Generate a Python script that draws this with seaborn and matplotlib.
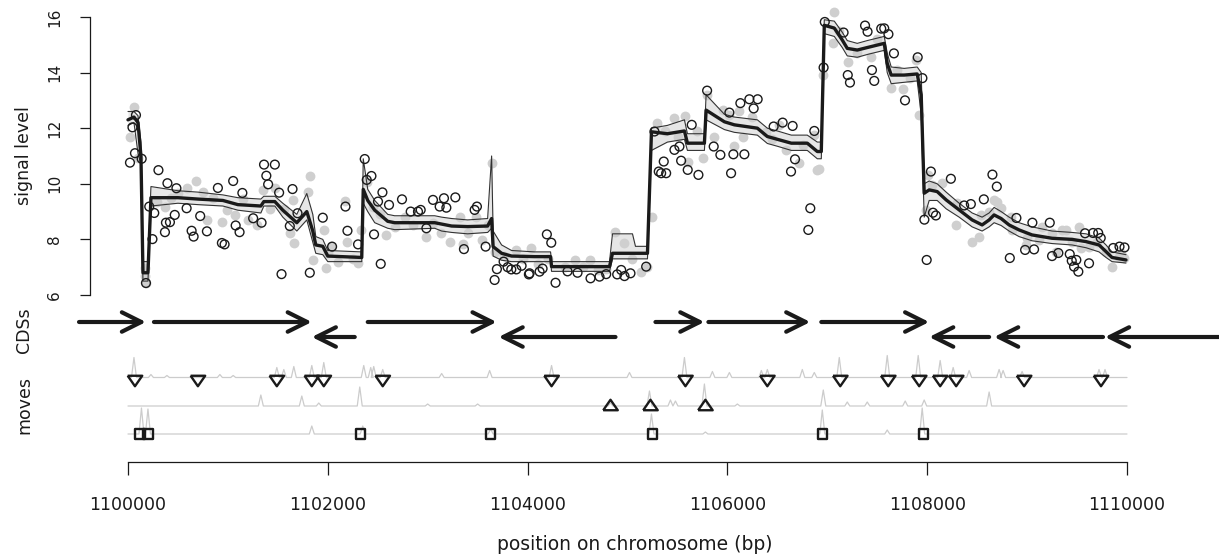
import matplotlib.pyplot as plt
import pandas as pd
import numpy as np
import seaborn as sns

sns.set_style('white')
plt.rcParams['font.family'] = ['DejaVu Sans']

# --- signal: posterior mean and the two outer quantile lines ---
mean_x = [1100000, 1100060, 1100100, 1100130, 1100150, 1100200, 1100230, 1100500, 1100700, 1100950,
          1101100, 1101330, 1101360, 1101470, 1101550, 1101690, 1101790, 1101850, 1101880, 1101950,
          1102000, 1102340, 1102355, 1102400, 1102470, 1102600, 1102670, 1103070, 1103140, 1103240,
          1103400, 1103600, 1103640, 1103655, 1103740, 1103840, 1104070, 1104230, 1104240, 1104820,
          1104850, 1105050, 1105080, 1105200, 1105240, 1105400, 1105570, 1105600, 1105770, 1105787,
          1105970, 1106070, 1106300, 1106400, 1106500, 1106640, 1106800, 1106900, 1106940, 1106970,
          1107070, 1107150, 1107200, 1107300, 1107400, 1107570, 1107600, 1107640, 1107770, 1107900,
          1107940, 1107970, 1108020, 1108100, 1108190, 1108320, 1108450, 1108550, 1108620, 1108670,
          1108740, 1108820, 1108920, 1109050, 1109250, 1109450, 1109590, 1109720, 1109790, 1109850,
          1109990]
mean_y = [12.3, 12.4, 12.2, 11.0, 6.8, 6.8, 9.5, 9.5, 9.45, 9.4,
          9.25, 9.2, 9.36, 9.36, 9.05, 8.6, 9.0, 8.3, 7.8, 7.75,
          7.4, 7.35, 9.8, 9.4, 9.05, 8.65, 8.6, 8.6, 8.55, 8.48,
          8.46, 8.48, 8.75, 7.74, 7.5, 7.4, 7.38, 7.38, 7.02, 7.02,
          7.5, 7.5, 7.5, 7.5, 11.87, 11.8, 11.9, 11.46, 11.46, 12.65,
          12.23, 12.12, 12.0, 11.7, 11.6, 11.46, 11.46, 11.16, 11.16, 15.7,
          15.6, 15.17, 14.87, 14.81, 14.9, 15.05, 14.33, 13.91, 13.91, 13.95,
          13.2, 9.66, 9.78, 9.72, 9.42, 9.06, 8.7, 8.52, 8.7, 8.88,
          8.75, 8.52, 8.34, 8.16, 8.04, 8.0, 7.92, 7.8, 7.56, 7.35,
          7.26]
upper_y = [12.6, 12.6, 12.45, 11.5, 7.2, 7.2, 9.9, 9.75, 9.7, 9.6,
           9.5, 9.45, 9.55, 9.55, 9.3, 8.9, 9.65, 8.9, 8.1, 8.0,
           7.6, 7.55, 10.9, 9.8, 9.4, 8.9, 8.85, 8.85, 8.8, 8.75,
           8.7, 8.75, 11.0, 8.3, 7.8, 7.6, 7.55, 7.55, 7.2, 7.2,
           8.2, 8.2, 7.75, 7.75, 12.0, 12.1, 12.3, 11.8, 11.8, 13.2,
           12.5, 12.4, 12.3, 12.0, 11.9, 11.75, 11.75, 11.5, 11.5, 15.9,
           15.85, 15.45, 15.15, 15.05, 15.15, 15.3, 14.7, 14.2, 14.15, 14.2,
           14.0, 10.0, 10.1, 10.0, 9.7, 9.3, 8.95, 8.8, 8.95, 9.15,
           9.0, 8.8, 8.6, 8.45, 8.3, 8.25, 8.2, 8.05, 7.8, 7.55,
           7.45]
lower_y = [12.1, 12.2, 11.1, 10.7, 6.5, 6.5, 9.2, 9.3, 9.25, 9.2,
           9.05, 8.95, 9.2, 9.2, 8.8, 8.3, 8.7, 7.9, 7.5, 7.45,
           7.2, 7.2, 9.3, 9.0, 8.6, 8.4, 8.35, 8.4, 8.3, 8.25,
           8.2, 8.25, 8.4, 7.4, 7.25, 7.2, 7.2, 7.2, 6.85, 6.85,
           7.3, 7.3, 7.3, 7.3, 11.2, 11.5, 11.6, 11.2, 11.2, 12.3,
           11.95, 11.85, 11.75, 11.45, 11.35, 11.2, 11.2, 10.9, 10.9, 15.4,
           15.3, 14.9, 14.6, 14.55, 14.65, 14.8, 14.0, 13.6, 13.65, 13.7,
           12.5, 8.8, 9.4, 9.4, 9.1, 8.8, 8.45, 8.3, 8.45, 8.6,
           8.5, 8.3, 8.1, 7.95, 7.85, 7.8, 7.7, 7.55, 7.35, 7.2,
           7.15]

# --- observed probes: open circles ---
circ_x = [1100020, 1100045, 1100080, 1100070, 1100137, 1100180, 1100213, 1100245, 1100263, 1100305,
          1100370, 1100380, 1100395, 1100420, 1100468, 1100485, 1100587, 1100637, 1100657, 1100723,
          1100790, 1100900, 1100940, 1100967, 1101053, 1101078, 1101117, 1101145, 1101253, 1101337,
          1101362, 1101385, 1101403, 1101470, 1101513, 1101537, 1101620, 1101647, 1101697, 1101820,
          1101950, 1102043, 1102177, 1102197, 1102303, 1102370, 1102390, 1102437, 1102463, 1102503,
          1102530, 1102547, 1102613, 1102743, 1102830, 1102903, 1102930, 1102987, 1103053, 1103120,
          1103163, 1103187, 1103277, 1103363, 1103470, 1103493, 1103580, 1103670, 1103693, 1103760,
          1103800, 1103837, 1103887, 1103940, 1104013, 1104020, 1104120, 1104150, 1104193, 1104237,
          1104280, 1104400, 1104500, 1104630, 1104720, 1104787, 1104897, 1104937, 1104970, 1105030,
          1105187, 1105270, 1105313, 1105337, 1105363, 1105387, 1105470, 1105520, 1105537, 1105603,
          1105643, 1105710, 1105797, 1105863, 1105930, 1106020, 1106037, 1106060, 1106130, 1106170,
          1106220, 1106263, 1106303, 1106463, 1106553, 1106637, 1106653, 1106677, 1106810, 1106830,
          1106870, 1106963, 1106975, 1107163, 1107205, 1107227, 1107378, 1107403, 1107447, 1107470,
          1107540, 1107570, 1107612, 1107667, 1107778, 1107905, 1107952, 1107972, 1107995, 1108037,
          1108058, 1108087, 1108237, 1108370, 1108437, 1108567, 1108653, 1108697, 1108827, 1108893,
          1108980, 1109053, 1109070, 1109227, 1109250, 1109313, 1109427, 1109447, 1109470, 1109493,
          1109513, 1109580, 1109620, 1109660, 1109712, 1109737, 1109862, 1109925, 1109975]
circ_y = [10.76, 12.03, 12.47, 11.1, 10.9, 6.43, 9.18, 8.01, 8.95, 10.49,
          8.26, 8.6, 10.02, 8.62, 8.88, 9.84, 9.12, 8.31, 8.1, 8.84,
          8.29, 9.85, 7.87, 7.82, 10.1, 8.5, 8.26, 9.67, 8.76, 8.6,
          10.69, 10.29, 9.98, 10.69, 9.68, 6.75, 8.48, 9.81, 8.94, 6.8,
          8.78, 7.74, 9.18, 8.31, 7.82, 10.89, 10.14, 10.28, 8.18, 9.36,
          7.12, 9.69, 9.24, 9.44, 9.0, 9.0, 9.06, 8.4, 9.42, 9.18,
          9.48, 9.14, 9.51, 7.65, 9.06, 9.18, 7.74, 6.54, 6.93, 7.2,
          7.0, 6.92, 6.92, 7.05, 6.74, 6.78, 6.84, 6.95, 8.18, 7.88,
          6.44, 6.85, 6.8, 6.6, 6.66, 6.75, 6.74, 6.9, 6.68, 6.78,
          7.02, 11.88, 10.44, 10.38, 10.8, 10.38, 11.22, 11.34, 10.83, 10.5,
          12.12, 10.32, 13.35, 11.34, 11.04, 12.56, 10.38, 11.06, 12.9, 11.06,
          13.04, 12.71, 13.04, 12.06, 12.2, 10.44, 12.08, 10.88, 8.34, 9.12,
          11.9, 14.18, 15.82, 15.44, 13.91, 13.64, 15.69, 15.47, 14.09, 13.7,
          15.58, 15.59, 15.38, 14.69, 13.0, 14.55, 13.8, 8.71, 7.26, 10.44,
          8.96, 8.86, 10.18, 9.22, 9.27, 9.44, 10.33, 9.9, 7.33, 8.77,
          7.62, 8.6, 7.64, 8.6, 7.4, 7.51, 7.47, 7.23, 7.02, 7.26,
          6.84, 8.22, 7.14, 8.23, 8.23, 8.05, 7.69, 7.74, 7.71]

# --- second replicate: light grey dots ---
grey_x = [1100020, 1100060, 1100103, 1100170, 1100175, 1100182, 1100287, 1100370, 1100430, 1100503,
          1100587, 1100680, 1100753, 1100793, 1100850, 1100937, 1100987, 1101070, 1101150, 1101203,
          1101287, 1101353, 1101420, 1101470, 1101560, 1101620, 1101647, 1101660, 1101803, 1101820,
          1101853, 1101960, 1101987, 1102003, 1102037, 1102100, 1102177, 1102197, 1102250, 1102303,
          1102337, 1102397, 1102453, 1102520, 1102587, 1102670, 1102770, 1102850, 1102987, 1103050,
          1103137, 1103227, 1103320, 1103353, 1103403, 1103487, 1103547, 1103600, 1103647, 1103670,
          1103760, 1103887, 1103950, 1104037, 1104100, 1104200, 1104370, 1104470, 1104550, 1104620,
          1104700, 1104780, 1104877, 1104970, 1105050, 1105137, 1105200, 1105247, 1105297, 1105380,
          1105463, 1105503, 1105577, 1105603, 1105700, 1105753, 1105797, 1105870, 1105953, 1106020,
          1106070, 1106120, 1106153, 1106250, 1106387, 1106450, 1106520, 1106587, 1106720, 1106760,
          1106863, 1106893, 1106920, 1106953, 1107053, 1107070, 1107120, 1107203, 1107300, 1107437,
          1107500, 1107637, 1107700, 1107753, 1107830, 1107887, 1107920, 1107987, 1108013, 1108053,
          1108153, 1108287, 1108300, 1108453, 1108520, 1108540, 1108620, 1108670, 1108703, 1108737,
          1108837, 1108853, 1108987, 1109003, 1109120, 1109150, 1109253, 1109287, 1109353, 1109387,
          1109450, 1109520, 1109540, 1109620, 1109700, 1109787, 1109853, 1109920, 1109940, 1109970]
grey_y = [11.7, 12.77, 10.92, 6.96, 6.7, 6.44, 9.36, 9.18, 9.5, 9.66,
          9.84, 10.11, 9.72, 8.7, 9.5, 8.64, 9.06, 8.88, 9.45, 8.7,
          8.52, 9.78, 9.1, 9.84, 9.1, 8.22, 9.42, 7.88, 9.72, 10.28,
          7.26, 8.34, 6.96, 7.5, 7.74, 7.2, 9.39, 7.92, 7.3, 7.14,
          8.34, 10.08, 9.18, 8.9, 8.16, 8.46, 8.82, 8.5, 8.1, 8.6,
          8.22, 7.92, 8.82, 7.83, 8.22, 8.82, 7.98, 8.5, 10.76, 7.56,
          7.4, 7.62, 7.3, 7.68, 7.1, 7.3, 7.02, 7.26, 7.0, 7.26,
          6.9, 6.95, 8.28, 7.86, 7.3, 6.84, 7.0, 8.82, 12.2, 11.9,
          12.35, 11.7, 12.44, 10.77, 11.9, 10.94, 13.2, 11.7, 12.65, 12.47,
          11.37, 12.6, 11.7, 12.4, 11.88, 11.6, 12.1, 11.2, 10.74, 11.4,
          11.76, 10.5, 10.52, 13.9, 15.05, 16.19, 15.5, 14.39, 14.7, 14.57,
          15.2, 13.43, 14.1, 13.4, 13.8, 14.45, 12.48, 9.06, 10.32, 9.96,
          10.04, 8.52, 9.32, 7.92, 8.1, 8.88, 9.0, 9.42, 9.36, 9.12,
          8.82, 8.34, 7.8, 8.04, 7.98, 8.46, 8.22, 7.56, 8.34, 8.34,
          7.9, 8.46, 7.68, 7.74, 7.9, 7.56, 7.02, 7.38, 7.5, 7.32]

# --- CDSs: tail and head position of every arrow ---
cds_tail = [1099510, 1100260, 1102270, 1102400, 1104880, 1105280, 1105810, 1106940, 1108620, 1109760, 1111000]
cds_head = [1100180, 1101840, 1101840, 1103690, 1103710, 1105770, 1106830, 1108020, 1108020, 1108670, 1109780]

# --- moves: peaks of the three posterior traces and the called moves ---
mv1_pos = [1100060, 1100230, 1100390, 1100920, 1101053, 1101490, 1101560, 1101660, 1101840, 1101960,
           1102360, 1102430, 1102460, 1102550, 1103140, 1103620, 1104240, 1105020, 1105570, 1105850,
           1106020, 1106340, 1106400, 1106750, 1106870, 1107120, 1107600, 1107910, 1108130, 1108260,
           1108420, 1108720, 1108760, 1108950, 1109720, 1109780]
mv1_h = [20, 3, 2, 3, 2, 10, 8, 11, 12, 15,
         12, 10, 11, 8, 4, 7, 12, 5, 20, 6,
         5, 7, 8, 8, 5, 20, 22, 22, 17, 10,
         7, 8, 7, 6, 8, 8]
mv2_pos = [1101330, 1101740, 1101910, 1102320, 1103000, 1103500, 1104830, 1105220, 1105430, 1105480,
           1105770, 1106100, 1106960, 1107200, 1107400, 1107780, 1107970, 1108620]
mv2_h = [11, 10, 3, 19, 2, 2, 3, 15, 6, 5,
         22, 2, 16, 4, 4, 5, 6, 14]
mv3_pos = [1100135, 1100200, 1101840, 1102350, 1103630, 1105240, 1105780, 1106950, 1107600, 1107950]
mv3_h = [26, 25, 8, 8, 5, 20, 2, 24, 4, 26]

move_down = [1100070, 1100700, 1101490, 1101840, 1101960, 1102550, 1104240, 1105580, 1106400, 1107130,
             1107610, 1107920, 1108130, 1108290, 1108970, 1109740]
move_up = [1104830, 1105230, 1105780]
move_sq = [1100120, 1100200, 1102330, 1103630, 1105250, 1106950, 1107960]

x_ticks = [1100000, 1102000, 1104000, 1106000, 1108000, 1110000]
y_ticks = [6, 8, 10, 12, 14, 16]

# ---------------- layout (pixel based) ----------------
W, H = 1219, 559
XL = (1098719, 1110921)
ink = '#1a1a1a'


def box(top, bottom):
    return [0, 1 - bottom / H, 1, (bottom - top) / H]


def bare(ax):
    ax.set_xlim(*XL)
    ax.patch.set_alpha(0)
    for s in ax.spines.values():
        s.set_visible(False)
    ax.set_xticks([])
    ax.set_yticks([])
    ax.set_xlabel('')
    ax.set_ylabel('')


fig = plt.figure(figsize=(W / 100, H / 100), dpi=100)

# signal panel
ax = fig.add_axes(box(5, 305))
ax.fill_between(mean_x, lower_y, upper_y, color='#e6e6e6', lw=0, zorder=1)
sns.scatterplot(x=grey_x, y=grey_y, color='#cfcfcf', s=50, linewidth=0, ax=ax, zorder=2)
sns.lineplot(x=mean_x, y=upper_y, estimator=None, sort=False, color='#333333', lw=0.8, ax=ax, zorder=3)
sns.lineplot(x=mean_x, y=lower_y, estimator=None, sort=False, color='#333333', lw=0.8, ax=ax, zorder=3)
sns.lineplot(x=mean_x, y=mean_y, estimator=None, sort=False, color=ink, lw=2.4, ax=ax, zorder=4)
sns.scatterplot(x=circ_x, y=circ_y, marker='o', s=40, facecolor='none', edgecolor=ink,
                linewidth=1.0, ax=ax, zorder=5)
bare(ax)
ax.set_ylim(5.64, 16.43)
ax.spines['left'].set_visible(True)
ax.spines['left'].set_position(('data', 1099620))
ax.spines['left'].set_bounds(6, 16)
ax.spines['left'].set_color(ink)
ax.spines['left'].set_linewidth(0.9)
ax.set_yticks(y_ticks)
ax.set_yticklabels([str(v) for v in y_ticks])
ax.tick_params(axis='y', left=True, length=7, width=0.9, color=ink, pad=13,
               labelsize=11, labelrotation=90, labelcolor=ink)
for t in ax.get_yticklabels():
    t.set_va('center')

# CDS panel
axc = fig.add_axes(box(305, 355))
bare(axc)
axc.set_ylim(0, 50)
for tail, head in zip(cds_tail, cds_head):
    lvl = 33 if head > tail else 18
    axc.annotate('', xy=(head, lvl), xytext=(tail, lvl), annotation_clip=False,
                 arrowprops=dict(arrowstyle='->,head_length=1.4,head_width=0.7', lw=3,
                                 color=ink, shrinkA=0, shrinkB=0))

# moves panel
axm = fig.add_axes(box(350, 445))
bare(axm)
axm.set_ylim(0, 95)
for pos, hgt, base in [(mv1_pos, mv1_h, 67.5), (mv2_pos, mv2_h, 39), (mv3_pos, mv3_h, 11)]:
    xs, ys = [1100000], [base]
    for p, h in sorted(zip(pos, hgt)):
        xs += [p - 25, p, p + 25]
        ys += [base, base + h, base]
    xs.append(1110000)
    ys.append(base)
    sns.lineplot(x=xs, y=ys, estimator=None, sort=False, color='#cccccc', lw=0.9, ax=axm, zorder=1)
tri = [(-1, 0.72), (1, 0.72), (0, -0.72), (-1, 0.72)]
sns.scatterplot(x=move_down, y=[64] * len(move_down), marker=tri, s=110, facecolor='none',
                edgecolor=ink, linewidth=1.7, ax=axm, zorder=3)
sns.scatterplot(x=move_up, y=[40] * len(move_up), marker=[(-1, -0.72), (1, -0.72), (0, 0.72), (-1, -0.72)],
                s=110, facecolor='none', edgecolor=ink, linewidth=1.7, ax=axm, zorder=3)
sns.scatterplot(x=move_sq, y=[11] * len(move_sq), marker='s', s=45, facecolor='none',
                edgecolor=ink, linewidth=1.7, ax=axm, zorder=3)
bare(axm)
axm.set_ylim(0, 95)

# x axis
axx = fig.add_axes(box(452, 462))
bare(axx)
axx.spines['bottom'].set_visible(True)
axx.spines['bottom'].set_bounds(1100000, 1110000)
axx.spines['bottom'].set_color(ink)
axx.spines['bottom'].set_linewidth(0.9)
axx.set_xticks(x_ticks)
axx.set_xticklabels([str(v) for v in x_ticks])
axx.tick_params(axis='x', bottom=True, length=9.5, width=0.9, color=ink, pad=15,
                labelsize=12.5, labelcolor=ink)

# side labels
fig.text(24 / W, 1 - 156 / H, 'signal level', rotation=90, ha='center', va='center', fontsize=12.5, color=ink)
fig.text(24 / W, 1 - 330 / H, 'CDSs', rotation=90, ha='center', va='center', fontsize=12.5, color=ink)
fig.text(24 / W, 1 - 405 / H, 'moves', rotation=90, ha='center', va='center', fontsize=12.5, color=ink)
fig.text(635 / W, 1 - 545 / H, 'position on chromosome (bp)', ha='center', va='center', fontsize=13.5, color=ink)

fig.savefig('out.png', dpi=100)
